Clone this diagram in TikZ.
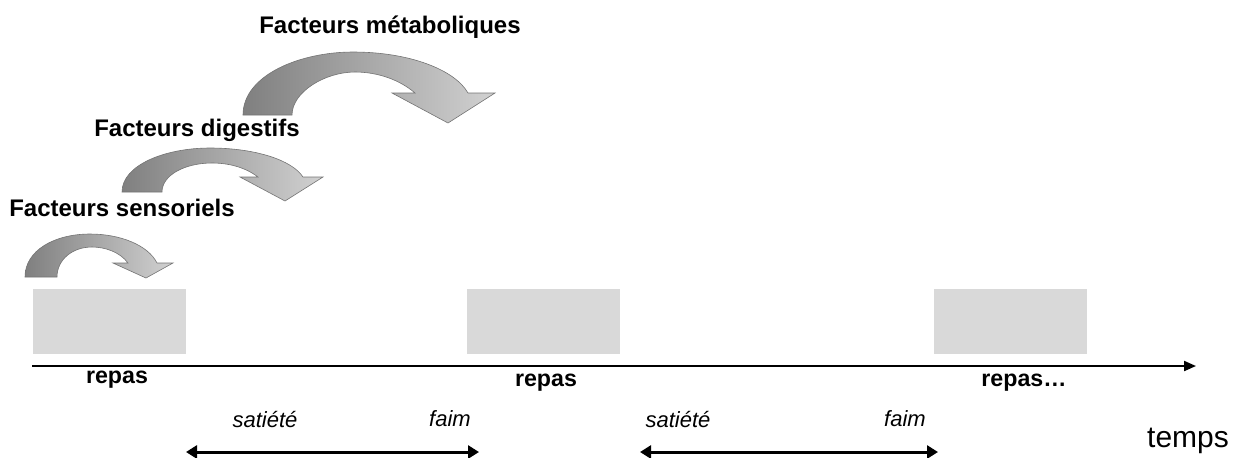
\documentclass[tikz,border=0pt]{standalone}
\usepackage{fontspec}
\setmainfont{Liberation Sans}
\usetikzlibrary{arrows.meta}
\definecolor{repasgray}{RGB}{217,217,217}

\tikzset{
  facteur/.style={font=\fontsize{12}{14}\selectfont\bfseries, inner sep=0pt},
  repasbox/.style={fill=repasgray, draw=none, minimum width=76.5pt, minimum height=32.5pt, inner sep=0pt},
  repaslabel/.style={font=\fontsize{11.6}{14}\selectfont\bfseries, inner sep=0pt, anchor=base},
  etat/.style={font=\fontsize{11}{13}\selectfont\itshape, inner sep=0pt},
  courbe/.style={draw=black!55, line width=0.3pt, left color=black!50, middle color=black!36, right color=black!18},
  fleche/.style={line width=1.5pt, {Triangle[length=5.5pt,width=6.5pt]}-{Triangle[length=5.5pt,width=6.5pt]}},
}

\begin{document}
\begin{tikzpicture}[x=0.5pt, y=-0.5pt]
    \useasboundingbox (0,0) rectangle (1234,457);

    % curved arrows
    \path[courbe] (25,277) .. controls (25,250) and (55,234) .. (90,234)
        .. controls (120,234) and (148,245) .. (157,263) -- (173,263) -- (146,278) -- (113,263) -- (128,263)
        .. controls (120,252) and (105,247) .. (92,247) .. controls (72,247) and (57,260) .. (57,277) -- cycle;
    \path[courbe] (122,192) .. controls (122,165) and (165,148) .. (210,148)
        .. controls (255,148) and (292,160) .. (303,177) -- (323,177) -- (285,201) -- (240,177) -- (258,177)
        .. controls (245,167) and (228,163) .. (212,163) .. controls (185,163) and (162,175) .. (162,192) -- cycle;
    \path[courbe] (243,115) .. controls (243,75) and (300,52) .. (353,52)
        .. controls (410,52) and (455,70) .. (468,93) -- (495,93) -- (448,123) -- (392,93) -- (415,93)
        .. controls (400,80) and (378,72) .. (355,72) .. controls (325,72) and (292,92) .. (292,115) -- cycle;

    \node[facteur] (sensoriels) at (122,208) {Facteurs sensoriels};
    \node[facteur] (digestifs) at (197,130) {Facteurs digestifs};
    \node[facteur] (metaboliques) at (390,27) {Facteurs métaboliques};

    % meals
    \node[repasbox] (repas1) at (109.5,321.5) {};
    \node[repasbox] (repas2) at (543.5,321.5) {};
    \node[repasbox] (repas3) at (1010,321.5) {};

    % time axis
    \coordinate (t0) at (32,366);
    \coordinate (t1) at (1196,366);
    \draw[line width=1pt, -{Triangle[length=6pt,width=5pt]}] (t0) -- (t1);

    \node[repaslabel] (lab1) at (117,383) {repas};
    \node[repaslabel] (lab2) at (546,386) {repas};
    \node[repaslabel] (lab3) at (1024,386) {repas…};

    \node[etat] (satiete1) at (265,419) {satiété};
    \node[etat] (faim1) at (450,419) {faim};
    \node[etat] (satiete2) at (678,419) {satiété};
    \node[etat] (faim2) at (905,419) {faim};

    \coordinate (a1) at (186,452);
    \coordinate (b1) at (479,452);
    \coordinate (a2) at (640,452);
    \coordinate (b2) at (938,452);
    \draw[fleche] (a1) -- (b1);
    \draw[fleche] (a2) -- (b2);

    \node[font=\fontsize{15}{18}\selectfont, inner sep=0pt, anchor=base] (temps) at (1188,447) {temps};
\end{tikzpicture}
\end{document}
